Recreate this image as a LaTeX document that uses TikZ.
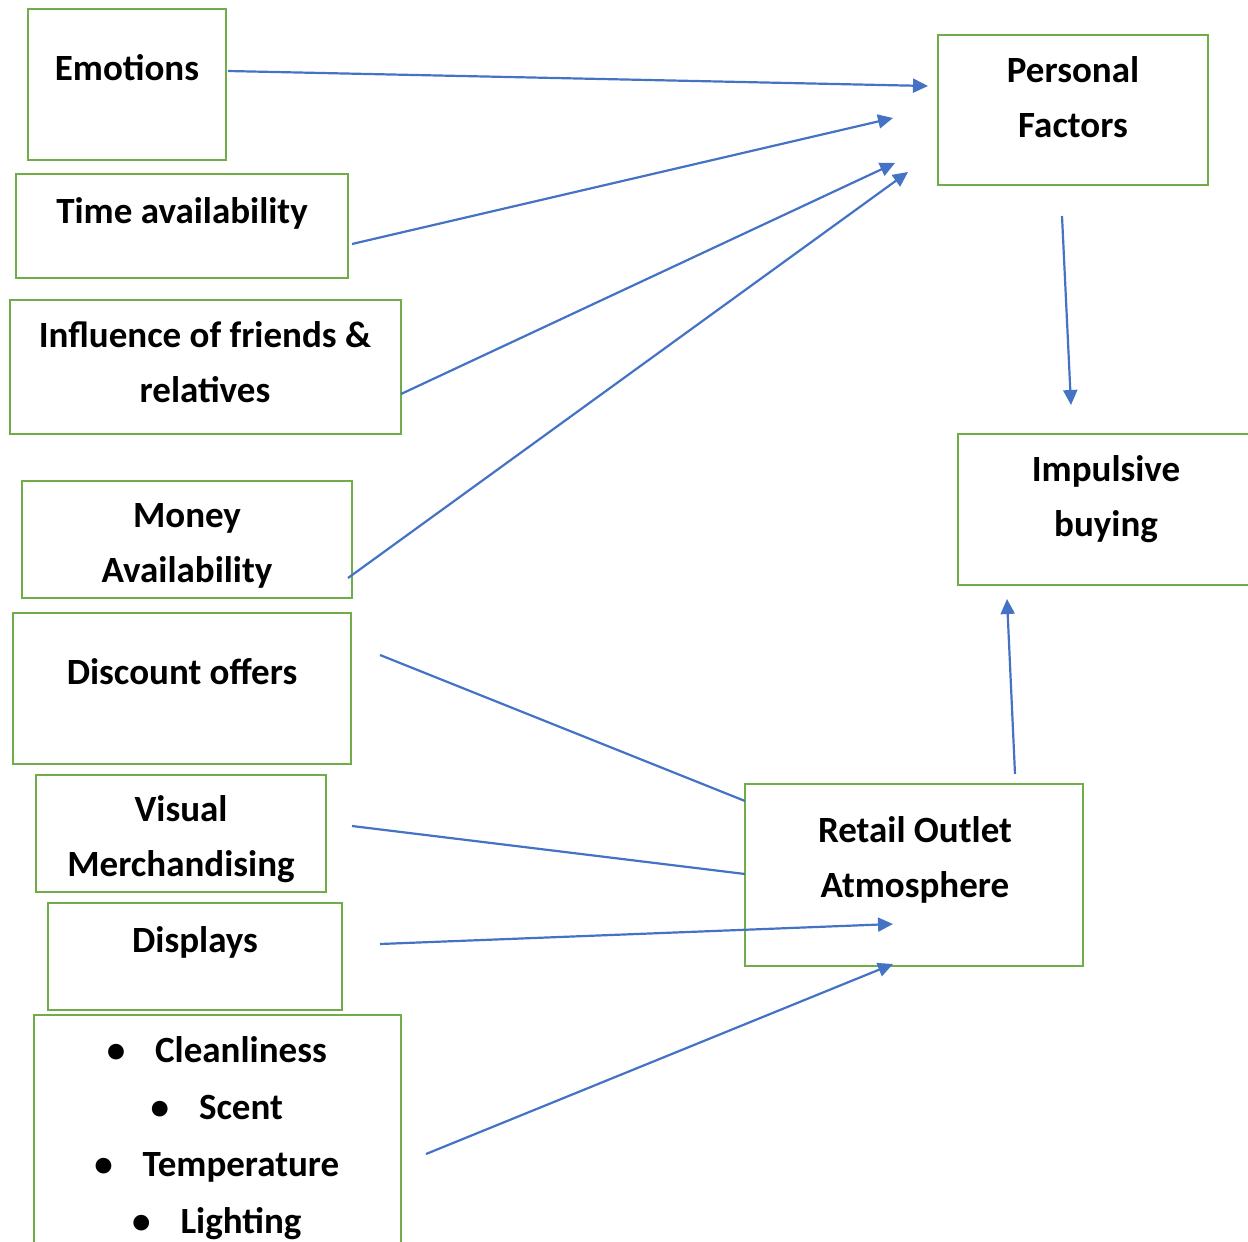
\documentclass[tikz,border=0pt]{standalone}
\usepackage{fontspec}
\setmainfont{Carlito}
\usetikzlibrary{arrows.meta,fit}
\definecolor{boxgreen}{HTML}{70AD47}
\definecolor{arrowblue}{HTML}{4472C4}
\tikzset{
  factor/.style={draw=boxgreen, line width=1.4pt, inner sep=0pt},
  word/.style={anchor=base, align=center, inner sep=0pt,
    font=\fontsize{18.5}{27.5}\selectfont\bfseries},
  flow/.style={arrowblue, line width=1.1pt, -{Triangle[length=7.5pt,width=7pt]}},
  link/.style={arrowblue, line width=1.1pt},
}
\newcommand{\bul}{\llap{\textbullet\hspace{15pt}}}

\begin{document}
\begin{tikzpicture}[x=0.5pt,y=-0.5pt]
  \useasboundingbox (0,0) rectangle (1248,1242);

  % factor boxes
  \node[factor, fit={(28,9) (226,160)}] (emotions) {};
  \node[factor, fit={(16,174) (348,278)}] (time) {};
  \node[factor, fit={(10,300) (401,434)}] (friends) {};
  \node[factor, fit={(22,481) (352,598)}] (money) {};
  \node[factor, fit={(13,613) (351,764)}] (discount) {};
  \node[factor, fit={(36,775) (326,892)}] (visual) {};
  \node[factor, fit={(48,903) (342,1010)}] (displays) {};
  \node[factor, fit={(34,1015) (401,1260)}] (ambience) {};
  \node[factor, fit={(938,35) (1208,185)}] (personal) {};
  \node[factor, fit={(958,434) (1262,585)}] (impulse) {};
  \node[factor, fit={(745,784) (1083,966)}] (retail) {};

  % texts (base = last line)
  \node[word] (emotions-t) at (127,80) {Emotions};
  \node[word] (time-t) at (182,223) {Time availability};
  \node[word] (friends-t) at (205,402) {Influence of friends \&\\relatives};
  \node[word] (money-t) at (187,582) {Money\\Availability};
  \node[word] (discount-t) at (182,684) {Discount offers};
  \node[word] (visual-t) at (181,876) {Visual\\Merchandising};
  \node[word] (displays-t) at (195,952) {Displays};
  \node[word, font=\fontsize{18.5}{28.5}\selectfont\bfseries] (ambience-t) at (241,1233)
    {\bul Cleanliness\\\bul Scent\\\bul Temperature\\\bul Lighting};
  \node[word] (personal-t) at (1073,137) {Personal\\Factors};
  \node[word] (impulse-t) at (1106,536) {Impulsive\\buying};
  \node[word] (retail-t) at (915,897) {Retail Outlet\\Atmosphere};

  % loose arrow ends
  \coordinate (emotions-o) at (228,71);
  \coordinate (time-o) at (352,244);
  \coordinate (friends-o) at (401,394);
  \coordinate (money-o) at (348,578);
  \coordinate (discount-o) at (380,655);
  \coordinate (visual-o) at (352,826);
  \coordinate (displays-o) at (380,944);
  \coordinate (ambience-o) at (426,1154);
  \coordinate (p1) at (928,86);
  \coordinate (p2) at (893,118);
  \coordinate (p3) at (895,163);
  \coordinate (p4) at (908,172);
  \coordinate (personal-o) at (1062,216);
  \coordinate (impulse-i) at (1071,405);
  \coordinate (retail-o) at (1015,774);
  \coordinate (impulse-b) at (1007,599);
  \coordinate (r1) at (745,801);
  \coordinate (r2) at (745,874);
  \coordinate (r3) at (893,924);
  \coordinate (r4) at (893,964);

  \draw[flow] (emotions-o) -- (p1);
  \draw[flow] (time-o) -- (p2);
  \draw[flow] (friends-o) -- (p3);
  \draw[flow] (money-o) -- (p4);
  \draw[flow] (personal-o) -- (impulse-i);
  \draw[flow] (retail-o) -- (impulse-b);
  \draw[link] (discount-o) -- (r1);
  \draw[link] (visual-o) -- (r2);
  \draw[flow] (displays-o) -- (r3);
  \draw[flow] (ambience-o) -- (r4);
\end{tikzpicture}
\end{document}
